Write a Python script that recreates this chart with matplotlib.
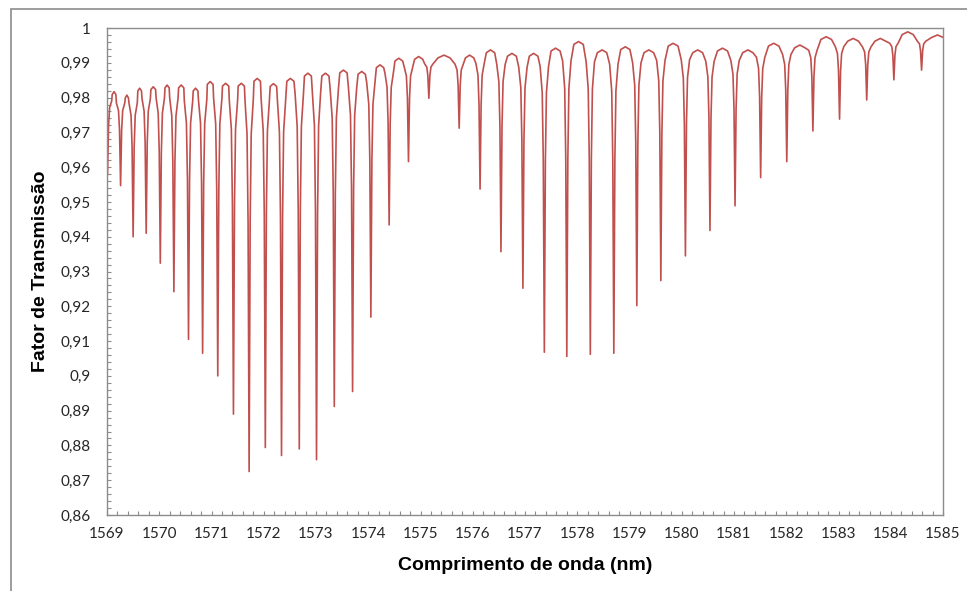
import numpy as np
import matplotlib.pyplot as plt
from matplotlib.ticker import MultipleLocator, FuncFormatter
from matplotlib.patches import Rectangle

# dip centres (nm) and transmission at the bottom of each dip
dip_nm = [1569.01, 1569.26, 1569.50, 1569.75, 1570.02, 1570.28, 1570.56, 1570.83,
          1571.12, 1571.42, 1571.72, 1572.03, 1572.34, 1572.68, 1573.01, 1573.35,
          1573.70, 1574.05, 1574.40, 1574.77, 1575.16, 1575.74, 1576.14, 1576.54,
          1576.96, 1577.37, 1577.80, 1578.25, 1578.70, 1579.14, 1579.60, 1580.07,
          1580.54, 1581.02, 1581.51, 1582.01, 1582.51, 1583.02, 1583.54, 1584.06,
          1584.59]
dip_min = [0.9578, 0.9547, 0.9400, 0.9410, 0.9324, 0.9242, 0.9105, 0.9065,
           0.9000, 0.8890, 0.8725, 0.8794, 0.8771, 0.8790, 0.8759, 0.8912,
           0.8955, 0.9169, 0.9434, 0.9616, 0.9798, 0.9712, 0.9537, 0.9357,
           0.9252, 0.9068, 0.9056, 0.9062, 0.9065, 0.9202, 0.9274, 0.9345,
           0.9418, 0.9489, 0.9570, 0.9616, 0.9704, 0.9738, 0.9793, 0.9851,
           0.9879]
# top of the transmission between a dip and the next one (last: up to 1585 nm)
hump = [0.9817, 0.9807, 0.9827, 0.9831, 0.9836, 0.9836, 0.9827, 0.9846,
        0.9841, 0.9841, 0.9855, 0.9840, 0.9855, 0.9870, 0.9870, 0.9879,
        0.9875, 0.9894, 0.9913, 0.9918, 0.9922, 0.9922, 0.9937, 0.9927,
        0.9927, 0.9942, 0.9961, 0.9937, 0.9946, 0.9937, 0.9956, 0.9937,
        0.9942, 0.9937, 0.9956, 0.9951, 0.9975, 0.9970, 0.9970, 0.9989,
        0.9980]

x_ticks = list(range(1569, 1586))
y_ticks = [0.86, 0.87, 0.88, 0.89, 0.90, 0.91, 0.92, 0.93, 0.94, 0.95,
           0.96, 0.97, 0.98, 0.99, 1.00]

# dip profile: offset from centre (nm) and fraction of depth
prof_dx = [-0.08, -0.04, -0.02, -0.008, 0.0, 0.008, 0.02, 0.04, 0.08]
prof_f = [0.03, 0.12, 0.35, 0.75, 1.0, 0.75, 0.35, 0.12, 0.03]

xs, ys = [], []
n = len(dip_nm)
for i in range(n):
    c = dip_nm[i]
    left = hump[i - 1] if i > 0 else hump[0]
    base = 0.5 * (left + hump[i]) - 0.002
    for dx, f in zip(prof_dx, prof_f):
        xs.append(c + dx)
        ys.append(base - f * (base - dip_min[i]))
    # plateau up to the next dip
    nxt = dip_nm[i + 1] if i < n - 1 else 1585.2
    g = nxt - c
    e = max(0.09, 0.3 * g)
    for px, dv in [(c + e, 0.0008), (c + 0.5 * g, 0.0), (nxt - e, 0.0008)]:
        xs.append(px)
        ys.append(hump[i] - dv)

fig = plt.figure(figsize=(9.67, 5.91), dpi=100)
ax = fig.add_axes([107 / 967, 1 - 515 / 591, 836 / 967, 487 / 591])

# chart frame
fig.patches.append(Rectangle((11 / 967, -0.2), 1.2, 0.2 + 1 - 9 / 591,
                             transform=fig.transFigure, fill=False,
                             edgecolor='#8c8c8c', linewidth=1.2))

ax.plot(xs, ys, color='#C0504D', linewidth=1.2)

ax.set_xlim(1569, 1585)
ax.set_ylim(0.86, 1.0)
ax.set_xticks(x_ticks)
ax.set_yticks(y_ticks)
ax.xaxis.set_minor_locator(MultipleLocator(0.2))
ax.yaxis.set_minor_locator(MultipleLocator(0.002))
ax.yaxis.set_major_formatter(FuncFormatter(
    lambda v, p: '1' if abs(v - 1) < 1e-9 else ('%g' % round(v, 2)).replace('.', ',')))

for s in ax.spines.values():
    s.set_color('#8c8c8c')
    s.set_linewidth(1.0)
ax.tick_params(which='both', direction='in', length=3, width=0.8, color='#8c8c8c')
ax.tick_params(axis='y', which='major', pad=12)
ax.tick_params(axis='x', which='major', pad=9)
for lab in ax.get_xticklabels() + ax.get_yticklabels():
    lab.set_fontfamily('Lato')
    lab.set_fontsize(11)
    lab.set_color('#262626')

ax.set_xlabel('Comprimento de onda (nm)', fontfamily='Liberation Sans',
              fontweight='bold', fontsize=14, labelpad=11)
ax.set_ylabel('Fator de Transmissão', fontfamily='Liberation Sans',
              fontweight='bold', fontsize=14, labelpad=8)

fig.savefig('out.png', dpi=100)
